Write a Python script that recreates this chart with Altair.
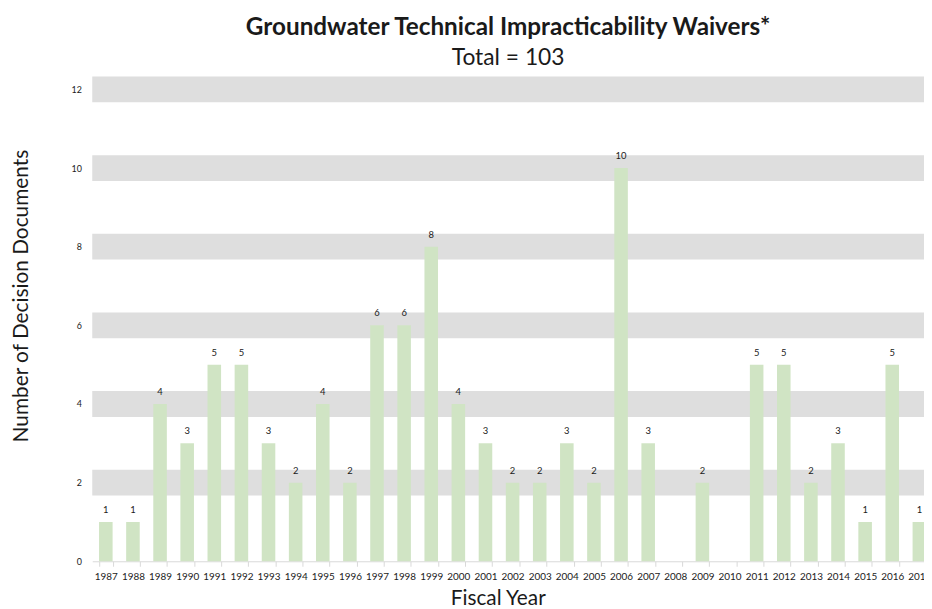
import altair as alt
import pandas as pd

years = [str(y) for y in range(1987, 2018)]
counts = [1, 1, 4, 3, 5, 5, 3, 2, 4, 2, 6, 6, 8, 4, 3, 2, 2, 3, 2, 10,
          3, 0, 2, 0, 5, 5, 2, 3, 1, 5, 1]
band_values = [2, 4, 6, 8, 10, 12]
y_ticks = [0, 2, 4, 6, 8, 10, 12]

title_text = "Groundwater Technical Impracticability Waivers*"
subtitle_text = "Total = " + str(sum(counts))

df = pd.DataFrame({"year": years, "count": counts})
bands = pd.DataFrame({"v": band_values})

FONT = "Lato"
TXT = "#1a1a1a"

x_scale = alt.Scale(paddingInner=0.5, paddingOuter=0.25, range=[0, 848])
y_scale = alt.Scale(domain=[0, 12], nice=False)

x_enc = alt.X(
    "year:N",
    sort=years,
    scale=x_scale,
    axis=alt.Axis(
        title="Fiscal Year",
        labelAngle=0,
        labelFontSize=10,
        labelColor=TXT,
        labelPadding=5,
        domainColor="#d9d9d9",
        tickColor="#d9d9d9",
        tickSize=5,
        tickBand="extent",
        titleFontSize=21,
        titleFontWeight="normal",
        titleColor=TXT,
        titlePadding=7,
        titleX=409,
        grid=False,
    ),
)

band_layer = alt.Chart(bands).mark_rule(
    color="#dedede", strokeWidth=26
).encode(
    y=alt.Y("v:Q", scale=y_scale)
)

bar_layer = alt.Chart(df).mark_bar(color="#d0e4c4").encode(
    x=x_enc,
    y=alt.Y(
        "count:Q",
        scale=y_scale,
        axis=alt.Axis(
            title="Number of Decision Documents",
            values=y_ticks,
            domain=False,
            ticks=False,
            grid=False,
            labelFontSize=9,
            labelColor=TXT,
            labelPadding=11,
            titleFontSize=21,
            titleFontWeight="normal",
            titleColor=TXT,
            titlePadding=40,
            titleY=208,
        ),
    ),
)

text_layer = alt.Chart(df).transform_filter(
    alt.datum.count > 0
).mark_text(
    baseline="alphabetic", dy=-9, fontSize=9.5, color=TXT, font=FONT
).encode(
    x=alt.X("year:N", sort=years, scale=x_scale),
    y=alt.Y("count:Q", scale=y_scale),
    text="count:Q",
)

chart = alt.layer(band_layer, bar_layer, text_layer).properties(
    width=839,
    height=476,
    autosize=alt.AutoSizeParams(type="none"),
    padding={"left": 85, "top": 79.5, "right": 0, "bottom": 45.5},
    title=alt.TitleParams(
        text=title_text,
        subtitle=subtitle_text,
        fontSize=24.5,
        fontWeight="bold",
        subtitleFontSize=23,
        subtitleColor=TXT,
        color=TXT,
        anchor="middle",
        font=FONT,
        subtitleFont=FONT,
        subtitlePadding=6,
        offset=6,
    ),
).configure(
    font=FONT,
).configure_view(
    stroke=None
).configure_axis(
    labelFont=FONT,
    titleFont=FONT,
)

chart.save("out.html", embed_options={"renderer": "svg", "actions": False})
